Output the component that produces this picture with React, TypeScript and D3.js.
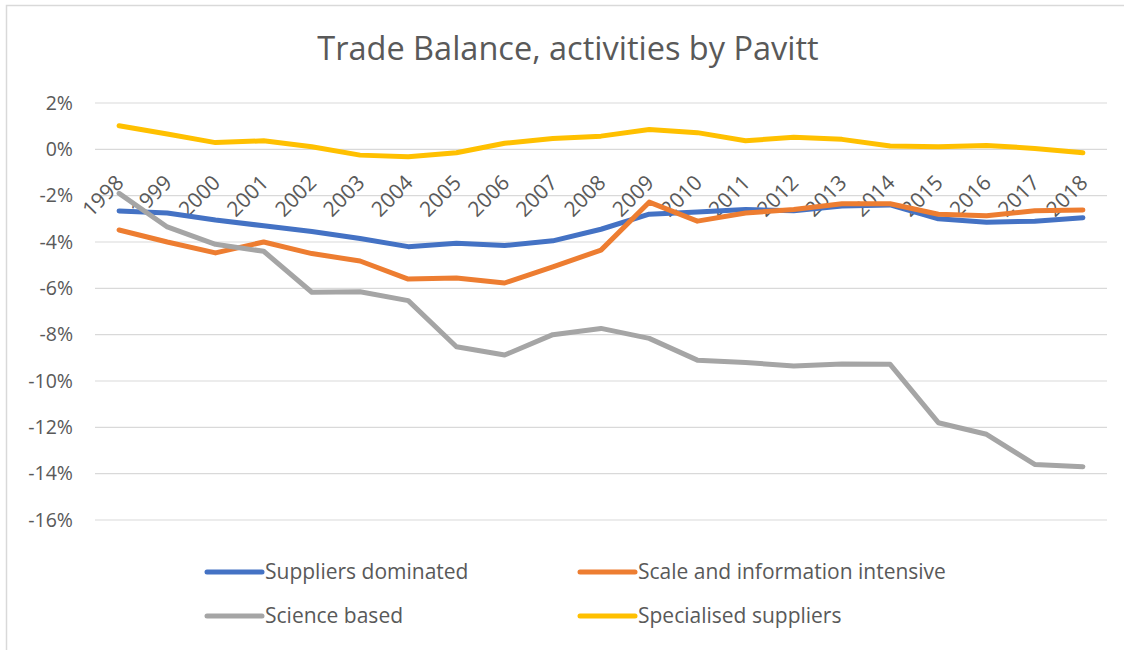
import React from 'react';
import * as d3 from 'd3';

const years: string[] = [
  '1998', '1999', '2000', '2001', '2002', '2003', '2004', '2005', '2006', '2007', '2008',
  '2009', '2010', '2011', '2012', '2013', '2014', '2015', '2016', '2017', '2018',
];

const suppliersDominated: number[] = [
  -2.66, -2.75, -3.05, -3.3, -3.55, -3.85, -4.2, -4.05, -4.15, -3.95, -3.45,
  -2.8, -2.7, -2.6, -2.65, -2.45, -2.4, -3.0, -3.15, -3.1, -2.95,
];
const scaleInfoIntensive: number[] = [
  -3.48, -4.0, -4.47, -4.0, -4.5, -4.82, -5.6, -5.55, -5.77, -5.07, -4.35,
  -2.28, -3.1, -2.75, -2.6, -2.35, -2.35, -2.8, -2.87, -2.65, -2.62,
];
const scienceBased: number[] = [
  -1.9, -3.35, -4.1, -4.4, -6.17, -6.15, -6.53, -8.52, -8.88, -8.0, -7.73,
  -8.16, -9.1, -9.2, -9.35, -9.27, -9.28, -11.8, -12.3, -13.6, -13.7,
];
const specialisedSuppliers: number[] = [
  1.02, 0.66, 0.29, 0.37, 0.11, -0.25, -0.32, -0.15, 0.26, 0.47, 0.57,
  0.86, 0.72, 0.37, 0.52, 0.43, 0.14, 0.11, 0.17, 0.04, -0.15,
];

const yTicks: number[] = [2, 0, -2, -4, -6, -8, -10, -12, -14, -16];

const seriesNames: string[] = [
  'Suppliers dominated',
  'Scale and information intensive',
  'Science based',
  'Specialised suppliers',
];
const seriesColors: string[] = ['#4472C4', '#ED7D31', '#A5A5A5', '#FFC000'];
const seriesValues: number[][] = [suppliersDominated, scaleInfoIntensive, scienceBased, specialisedSuppliers];

const W = 1124;
const H = 650;
const FONT = '"Open Sans", "Noto Sans", sans-serif';
const TEXT = '#595959';

export default function App() {
  const x = d3.scaleBand<string>().domain(years).range([95, 1107]).padding(0);
  const y = d3.scaleLinear().domain([-16, 2]).range([520, 103]);
  const xc = (d: string) => (x(d) ?? 0) + x.bandwidth() / 2;

  const line = d3
    .line<number>()
    .x((_, i) => xc(years[i]))
    .y((v) => y(v));

  // legend: two columns, two rows
  const legendX = [207, 580];
  const legendY = [572, 616];

  return (
    <svg width={W} height={H} style={{ position: 'absolute', left: 0, top: 0, background: '#fff' }}>
      <rect x={0} y={0} width={W} height={H} fill="#fff" />
      <path d={`M6.5,${H} L6.5,5.5 L${W},5.5`} fill="none" stroke="#d9d9d9" strokeWidth={1.5} />

      <text
        x={568}
        y={60}
        textAnchor="middle"
        fontFamily={FONT}
        fontSize={32.5}
        fill={TEXT}
      >
        Trade Balance, activities by Pavitt
      </text>

      {yTicks.map((t) => (
        <g key={t}>
          <line x1={95} x2={1107} y1={y(t)} y2={y(t)} stroke="#d9d9d9" strokeWidth={1.2} />
          <text
            x={73}
            y={y(t)}
            dy="0.35em"
            textAnchor="end"
            fontFamily={FONT}
            fontSize={19.5}
            fill={TEXT}
          >
            {`${t}%`}
          </text>
        </g>
      ))}

      {years.map((d) => (
        <text
          key={d}
          transform={`translate(${xc(d) + 6},184) rotate(-45)`}
          textAnchor="end"
          fontFamily={FONT}
          fontSize={21}
          fill={TEXT}
        >
          {d}
        </text>
      ))}

      {seriesValues.map((vals, i) => (
        <path
          key={seriesNames[i]}
          d={line(vals) ?? ''}
          fill="none"
          stroke={seriesColors[i]}
          strokeWidth={5}
          strokeLinejoin="round"
          strokeLinecap="round"
        />
      ))}

      {seriesNames.map((name, i) => {
        const lx = legendX[i % 2];
        const ly = legendY[Math.floor(i / 2)];
        return (
          <g key={name}>
            <line
              x1={lx}
              x2={lx + 55}
              y1={ly}
              y2={ly}
              stroke={seriesColors[i]}
              strokeWidth={5}
              strokeLinecap="round"
            />
            <text
              x={lx + 58}
              y={ly}
              dy="0.35em"
              fontFamily={FONT}
              fontSize={21}
              fill={TEXT}
            >
              {name}
            </text>
          </g>
        );
      })}
    </svg>
  );
}
